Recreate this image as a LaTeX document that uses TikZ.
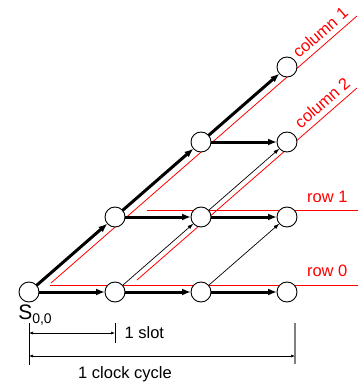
\documentclass[tikz,border=0pt]{standalone}
\usepackage{fontspec}
\setmainfont{Liberation Sans}
\usetikzlibrary{arrows.meta, positioning}

\begin{document}
\begin{tikzpicture}[
    every node/.style={font=\fontsize{16.5}{19}\selectfont},
    slotnode/.style={draw, circle, fill=white, minimum size=20pt, inner sep=0pt, outer sep=0pt, line width=0.9pt},
    lane/.style={red, line width=0.8pt},
    lanelabel/.style={text=red},
    arr/.style={-{Latex[length=9pt, width=7pt]}, line width=3pt},
    thinarr/.style={-{Latex[length=6pt, width=4pt]}, line width=0.7pt},
    dim/.style={{Latex[length=4pt, width=3pt]}-{Latex[length=4pt, width=3pt]}, line width=0.6pt}
]
    \useasboundingbox (-29pt,-100pt) rectangle (329pt,292pt);

    % red lanes behind the slots
    \draw[lane] (21pt,7pt) -- (329pt,7pt) node[lanelabel, pos=0.9, above=5pt] (row0) {row 0};
    \draw[lane] (118pt,82pt) -- (329pt,82pt) node[lanelabel, pos=0.855, above=4pt] (row1) {row 1};
    \draw[lane] (22pt,9pt) -- (328pt,276pt) node[lanelabel, pos=0.905, sloped, above=2pt] (col1) {column 1};
    \draw[lane] (108pt,12pt) -- (328pt,204pt) node[lanelabel, pos=0.877, sloped, above=2pt] (col2) {column 2};

    \node[slotnode] (s00) at (0,0) {};
    \node[slotnode, right=66pt of s00] (s10) {};
    \node[slotnode, right=66pt of s10] (s20) {};
    \node[slotnode, right=66pt of s20] (s30) {};
    \node[slotnode, above=55pt of s10] (s11) {};
    \node[slotnode, above=55pt of s20] (s21) {};
    \node[slotnode, above=55pt of s30] (s31) {};
    \node[slotnode, above=55pt of s21] (s22) {};
    \node[slotnode, above=55pt of s31] (s32) {};
    \node[slotnode, above=55pt of s32] (s33) {};

    \node[below=2pt of s00, xshift=6pt, inner sep=1pt] (start)
        {{\fontsize{21}{24}\selectfont S}\raisebox{-4pt}{\fontsize{14}{16}\selectfont 0,0}};

    \draw[arr] (s00) -- (s10);
    \draw[arr] (s10) -- (s20);
    \draw[arr] (s20) -- (s30);
    \draw[arr] (s11) -- (s21);
    \draw[arr] (s21) -- (s31);
    \draw[arr] (s22) -- (s32);
    \draw[arr] (s00) -- (s11);
    \draw[arr] (s11) -- (s22);
    \draw[arr] (s22) -- (s33);

    \draw[thinarr] (s10) -- (s21);
    \draw[thinarr] (s20) -- (s31);
    \draw[thinarr] (s21) -- (s32);

    % time scale
    \coordinate (slotA) at (0,-41pt);
    \coordinate (slotB) at (86pt,-41pt);
    \coordinate (cycA) at (0,-64pt);
    \coordinate (cycB) at (266pt,-64pt);
    \draw[line width=0.8pt] (0,-31pt) -- (0,-73pt);
    \draw[line width=0.8pt] (86pt,-31pt) -- (86pt,-51pt);
    \draw[gray, line width=1.2pt] (266pt,-31pt) -- (266pt,-72pt);
    \draw[dim] (slotA) -- (slotB) node[right=6pt] (slot) {1 slot};
    \draw[dim] (cycA) -- (cycB);
    \node (cycle) at (96pt,-82pt) {1 clock cycle};
\end{tikzpicture}
\end{document}
